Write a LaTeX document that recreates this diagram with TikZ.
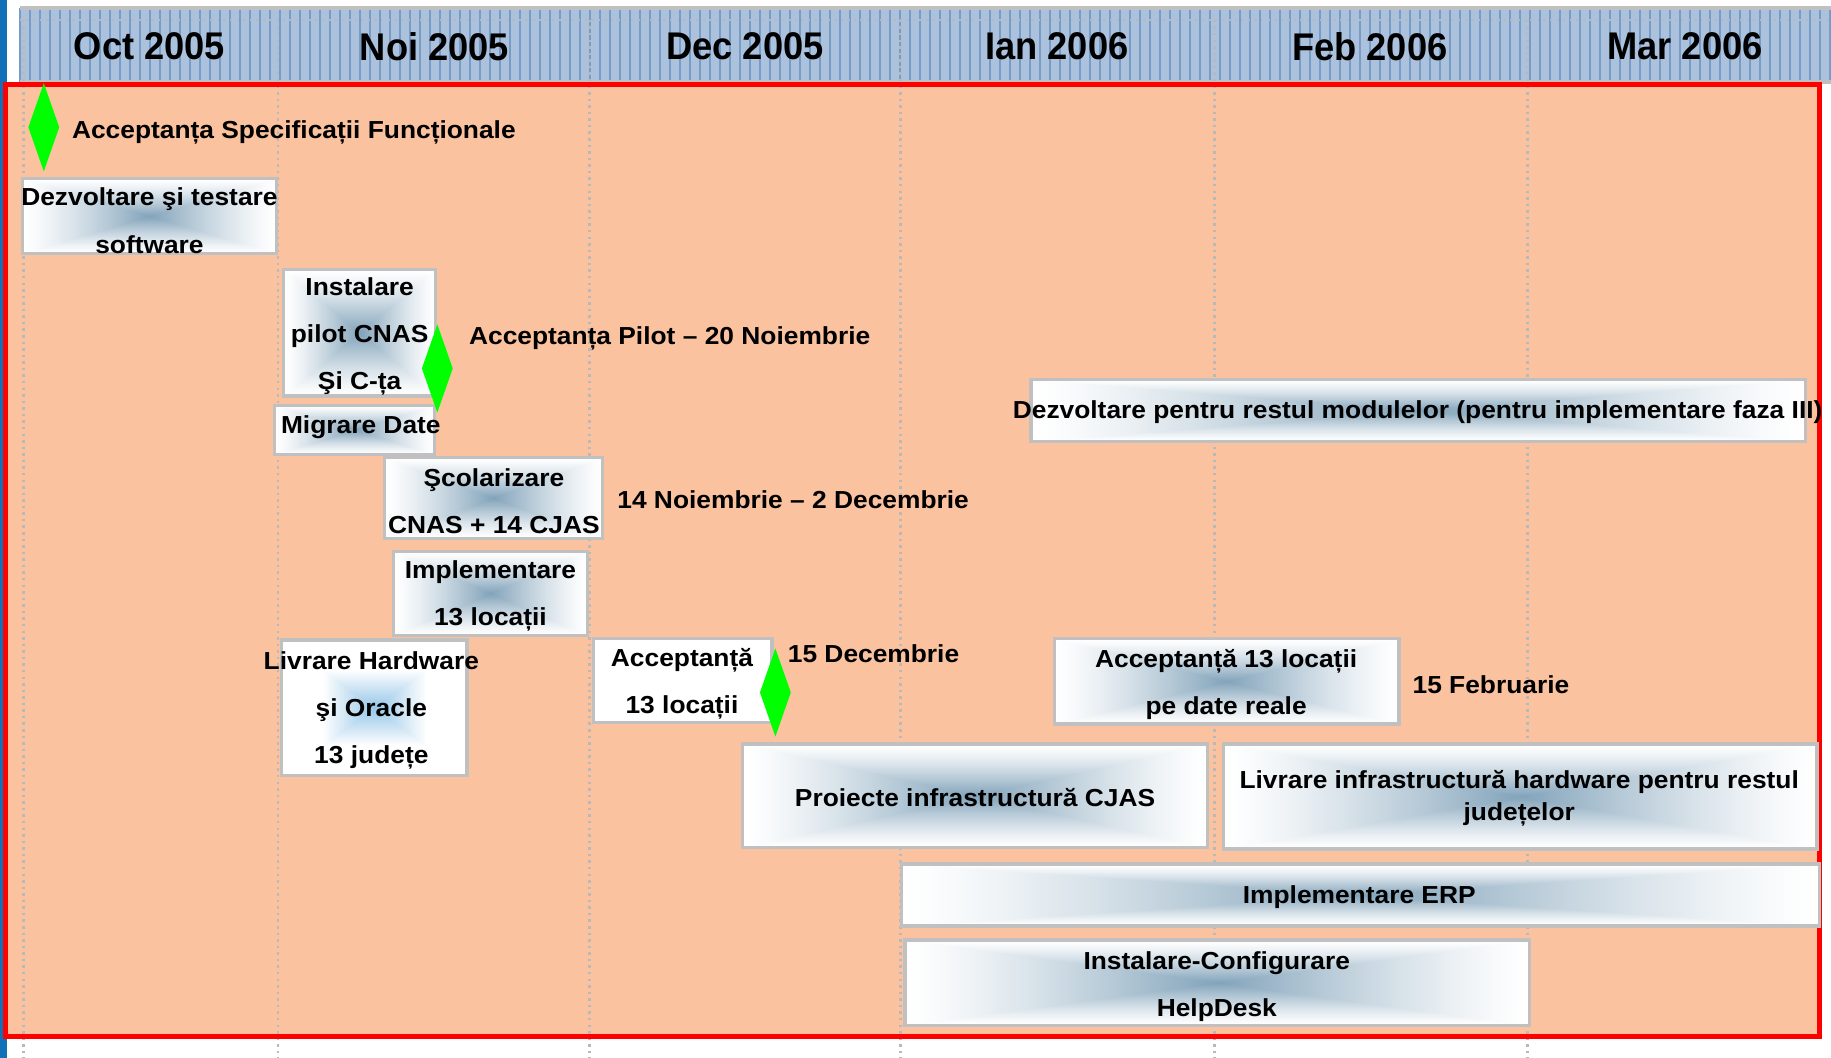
\documentclass[tikz,border=0pt]{standalone}
\usepackage{fontspec}
\usetikzlibrary{shapes.geometric}
\newfontfamily\ganttfont[FakeStretch=1.07]{Liberation Sans}
\newfontfamily\moisfont[FakeStretch=0.94]{Liberation Sans}
\definecolor{fondorange}{RGB}{250,194,158}
\definecolor{entete}{RGB}{172,194,220}
\definecolor{grilleentete}{RGB}{120,156,200}
\definecolor{bordgris}{RGB}{192,192,192}
\definecolor{vertjalon}{RGB}{0,255,0}
\definecolor{bleubord}{RGB}{16,112,184}
\pgfdeclarefunctionalshading{tacheshade}{\pgfpointorigin}{\pgfpoint{100bp}{100bp}}{}{
  50 sub abs exch 50 sub abs 2 copy lt {exch} if pop 25 div dup 1 gt {pop 1} if
  1 exch sub 1.3 exp dup dup
  0.27 mul 1 exch sub 3 1 roll
  0.36 mul 1 exch sub exch
  0.49 mul 1 exch sub
  3 1 roll exch
}
\pgfdeclarefunctionalshading{tacheblob}{\pgfpointorigin}{\pgfpoint{100bp}{100bp}}{}{
  50 sub abs exch 50 sub abs 2 copy lt {exch} if pop 14 div dup 1 gt {pop 1} if
  1 exch sub dup dup
  0.09 mul 1 exch sub 3 1 roll
  0.22 mul 1 exch sub exch
  0.41 mul 1 exch sub
  3 1 roll exch
}
\begin{document}
\begin{tikzpicture}[x=1cm,y=-1cm,
    cadre/.style={draw=bordgris,line width=0.8pt,inner sep=0pt},
    tache/.style={cadre,shading=tacheshade},
    texte/.style={font=\ganttfont\bfseries\fontsize{6}{11.5}\selectfont,align=center,inner sep=0pt},
    mois/.style={font=\moisfont\bfseries\fontsize{9.4}{11}\selectfont,inner sep=0pt},
    jalon/.style={diamond,fill=vertjalon,inner sep=0pt,minimum width=0.27cm,minimum height=0.76cm},
    repere/.style={draw=gray!55,densely dotted,line width=0.6pt}]
  \useasboundingbox (0,0) rectangle (15.68,9.06);
  \fill[white] (0,0) rectangle (15.68,9.06);
  \fill[bleubord] (0,0) rectangle (0.06,9.06); %bande bleue
  \fill[entete] (0.17,0.07) rectangle (15.68,0.70); %entete mois
  \draw[grilleentete,line width=0.3pt,step=0.08563] (0.17,0.07) grid (15.68,0.70);
  \draw[bordgris,line width=1pt] (0.17,0.07) -- (15.68,0.07);
  \draw[bordgris,line width=1pt] (0.17,0.70) -- (15.68,0.70);
  \draw[repere] (0.17,0.17) -- (15.68,0.17);
  \fill[fondorange] (0.05,0.72) rectangle (15.585,8.88); %fond orange
  \foreach \x in {0.20,2.38,5.05,7.71,10.40,13.08}
    \draw[repere] (\x,0.17) -- (\x,9.06); %separation mois
  \draw[red,line width=1.2pt] (0.05,0.725) rectangle (15.585,8.875); %cadre rouge

  \node[mois] (oct) at (1.28,0.40) {Oct 2005};
  \node[mois] (noi) at (3.72,0.40) {Noi 2005};
  \node[mois] (dec) at (6.38,0.40) {Dec 2005};
  \node[mois] (ian) at (9.05,0.40) {Ian 2006};
  \node[mois] (feb) at (11.73,0.40) {Feb 2006};
  \node[mois] (mar) at (14.43,0.40) {Mar 2006};

  \node[tache,minimum width=2.18cm,minimum height=0.64cm] (dezvoltare) at (1.28,1.85) {};
  \node[tache,minimum width=1.30cm,minimum height=1.08cm] (pilot) at (3.08,2.85) {};
  \node[tache,minimum width=1.37cm,minimum height=0.42cm] (migrare) at (3.035,3.68) {};
  \node[tache,minimum width=1.87cm,minimum height=0.69cm] (scolarizare) at (4.225,4.265) {};
  \node[tache,minimum width=1.66cm,minimum height=0.72cm] (implementare) at (4.20,5.08) {};
  \node[cadre,shading=tacheblob,minimum width=1.59cm,minimum height=1.16cm] (hardware) at (3.205,6.06) {};
  \node[cadre,fill=white,minimum width=1.53cm,minimum height=0.72cm] (acceptanta) at (5.845,5.83) {};
  \node[tache,minimum width=2.95cm,minimum height=0.73cm] (datereale) at (10.505,5.835) {};
  \node[tache,minimum width=6.63cm,minimum height=0.53cm] (module) at (12.145,3.515) {};
  \node[tache,minimum width=3.98cm,minimum height=0.89cm] (proiecte) at (8.35,6.815) {};
  \node[tache,minimum width=5.08cm,minimum height=0.90cm] (infra) at (13.02,6.82) {};
  \node[tache,minimum width=7.86cm,minimum height=0.53cm] (erp) at (11.65,7.665) {};
  \node[tache,minimum width=5.35cm,minimum height=0.73cm] (helpdesk) at (10.425,8.415) {};

  \node[texte] (t-dezvoltare) at (1.28,1.89) {Dezvoltare şi testare\\software};
  \node[texte] (t-pilot) at (3.08,2.88) {Instalare\\pilot CNAS\\Şi C-ța};
  \node[texte] (t-migrare) at (3.09,3.655) {Migrare Date};
  \node[texte] (t-scolarizare) at (4.23,4.29) {Şcolarizare\\CNAS + 14 CJAS};
  \node[texte] (t-implementare) at (4.20,5.10) {Implementare\\13 locații};
  \node[texte] (t-hardware) at (3.18,6.085) {Livrare Hardware\\şi Oracle\\13 județe};
  \node[texte] (t-acceptanta) at (5.84,5.855) {Acceptanță\\13 locații};
  \node[texte] (t-datereale) at (10.50,5.86) {Acceptanță 13 locații\\pe date reale};
  \node[texte] (t-module) at (12.14,3.53) {Dezvoltare pentru restul modulelor (pentru implementare faza III)};
  \node[texte] (t-proiecte) at (8.35,6.83) {Proiecte infrastructură CJAS};
  \node[texte,font=\ganttfont\bfseries\fontsize{6}{7.7}\selectfont] (t-infra) at (13.01,6.835) {Livrare infrastructură hardware pentru restul\\județelor};
  \node[texte] (t-erp) at (11.64,7.68) {Implementare ERP};
  \node[texte] (t-helpdesk) at (10.42,8.45) {Instalare-Configurare\\HelpDesk};

  \node[jalon] (j-specif) at (0.375,1.09) {}; %jalons
  \node[jalon] (j-pilot) at (3.745,3.155) {};
  \node[jalon] (j-dec) at (6.64,5.93) {};
  \node[texte,anchor=west] (specif) at (0.61,1.135) {Acceptanța Specificații Funcționale};
  \node[texte,anchor=west] (accpilot) at (4.01,2.90) {Acceptanța Pilot – 20 Noiembrie};
  \node[texte,anchor=west] (perioada) at (5.28,4.28) {14 Noiembrie – 2 Decembrie};
  \node[texte,anchor=west] (dec15) at (6.74,5.60) {15 Decembrie};
  \node[texte,anchor=west] (feb15) at (12.09,5.86) {15 Februarie};
\end{tikzpicture}
\end{document}
